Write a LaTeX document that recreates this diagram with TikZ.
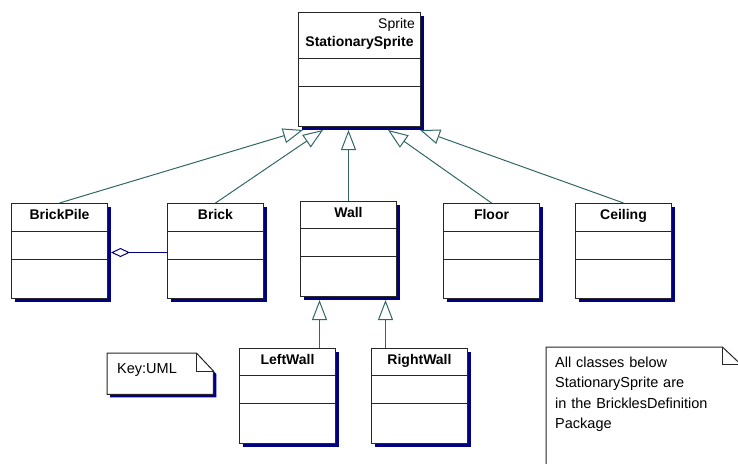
\documentclass[tikz,border=0pt]{standalone}
\usepackage{fontspec}
\setmainfont{Liberation Sans}
\usetikzlibrary{arrows.meta,positioning,calc,shadows,backgrounds}
\definecolor{umlnavy}{RGB}{0,0,128}
\definecolor{umlteal}{RGB}{51,102,102}

\begin{document}
\begin{tikzpicture}[x=1pt, y=-1pt,
  classbox/.style={draw=black!85, line width=1pt, fill=white, anchor=north west,
              inner sep=0pt, minimum width=96pt, minimum height=95pt,
              text height=16pt, text depth=79pt,
              font=\fontsize{14pt}{16pt}\selectfont\bfseries,
              drop shadow={shadow xshift=3pt, shadow yshift=-3pt, fill=umlnavy, opacity=1}},
  parts/.style 2 args={path picture={
      \draw[black!85, line width=1pt]
        ([yshift=-#1]path picture bounding box.north west) -- ([yshift=-#1]path picture bounding box.north east)
        ([yshift=-#2]path picture bounding box.north west) -- ([yshift=-#2]path picture bounding box.north east);}},
  inherit/.style={draw=umlteal, line width=1pt, -{Triangle[open, length=20pt, width=15pt]}},
  notetext/.style={anchor=north west, inner ysep=0pt, align=left,
              font=\fontsize{14.5pt}{20.5pt}\selectfont},
  noteline/.style={draw=black!85, line width=1pt}]
  \useasboundingbox (0,0) rectangle (738,463);
  % Basisklasse
  \node[classbox, parts={46pt}{74pt}, minimum width=122pt, minimum height=114pt,
        text height=34pt, text depth=80pt,
        label={[anchor=north east, inner sep=0pt, xshift=-6pt, yshift=-6pt,
                font=\fontsize{14pt}{16pt}\selectfont]north east:Sprite}]
        (stat) at (298,12) {StationarySprite};
  % Unterklassen
  \node[classbox, parts={28pt}{56pt}] (pile)  at (11,203)  {BrickPile};
  \node[classbox, parts={28pt}{56pt}] (brick) at (167,203) {Brick};
  \node[classbox, parts={27pt}{55pt}] (wall)  at (300,201) {Wall};
  \node[classbox, parts={28pt}{56pt}] (floor) at (443,203) {Floor};
  \node[classbox, parts={28pt}{56pt}] (ceil)  at (575,203) {Ceiling};
  \node[classbox, parts={27pt}{55pt}] (lwall) at (239,348) {LeftWall};
  \node[classbox, parts={27pt}{55pt}] (rwall) at (371,348) {RightWall};
  % Notizen
  \node[notetext, minimum width=106pt, minimum height=41pt, inner xsep=10pt,
        text width=86pt, text height=20pt, text depth=21pt] (key) at (107,353) {Key:UML};
  \node[notetext, minimum width=194pt, minimum height=130pt, inner xsep=9pt,
        text width=176pt, text height=20pt, text depth=110pt] (pkg) at (546,347)
        {All classes below\\StationarySprite are\\in the BricklesDefinition\\Package};
  \begin{scope}[on background layer]
    \draw[noteline, fill=white, drop shadow={shadow xshift=3pt, shadow yshift=-3pt, fill=umlnavy, opacity=1}]
      (key.north west) -- ([xshift=-17pt]key.north east) -- ([yshift=-18pt]key.north east)
      -- (key.south east) -- (key.south west) -- cycle;
    \draw[noteline, fill=white]
      (pkg.north west) -- ([xshift=-18pt]pkg.north east) -- ([yshift=-17pt]pkg.north east)
      -- (pkg.south east) -- (pkg.south west) -- cycle;
  \end{scope}
  \draw[noteline] ([xshift=-17pt]key.north east) |- ([yshift=-18pt]key.north east);
  \draw[noteline] ([xshift=-18pt]pkg.north east) |- ([yshift=-17pt]pkg.north east);
  % Vererbung
  \draw[inherit] (pile.north)  -- ([xshift=5pt, yshift=-3pt]stat.south west);
  \draw[inherit] (brick.north) -- ([xshift=25pt, yshift=-3pt]stat.south west);
  \draw[inherit] (wall.north)  -- ($(wall.north |- stat.south)+(0,3)$);
  \draw[inherit] (floor.north) -- ([xshift=-33pt, yshift=-3pt]stat.south east);
  \draw[inherit] (ceil.north)  -- ([xshift=-1pt, yshift=-3pt]stat.south east);
  \coordinate (wl) at ([xshift=-29pt]wall.south);
  \coordinate (wr) at ([xshift=37pt]wall.south);
  \draw[inherit] (lwall.north -| wl) -- ([yshift=-3pt]wl);
  \draw[inherit] (rwall.north -| wr) -- ([yshift=-3pt]wr);
  % Aggregation
  \draw[draw=umlnavy, line width=1pt, {Diamond[open, length=19pt, width=9pt]}-]
    ([xshift=3pt, yshift=-1.5pt]pile.east) -- ([yshift=-1.5pt]brick.west);
\end{tikzpicture}
\end{document}
